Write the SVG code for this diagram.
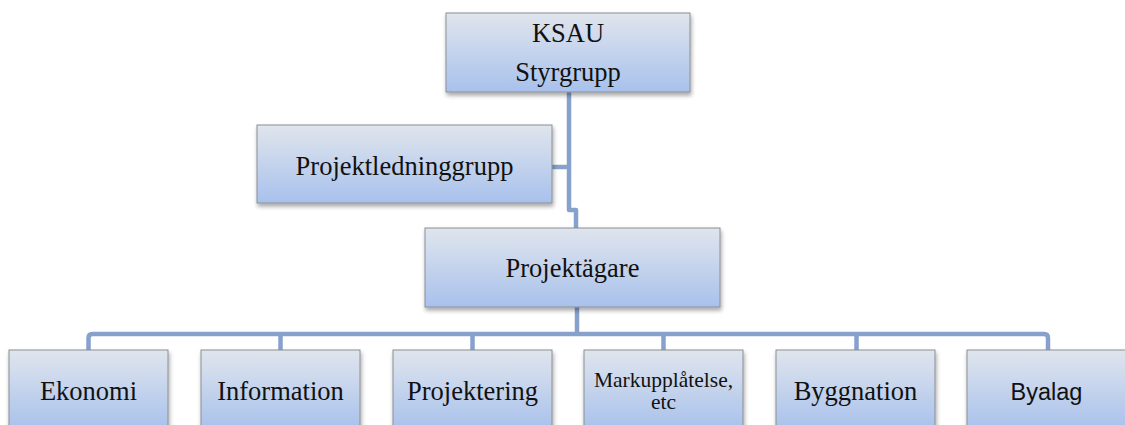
<svg xmlns="http://www.w3.org/2000/svg" width="1125" height="425" viewBox="0 0 1125 425">
<defs>
<linearGradient id="g" x1="0" y1="0" x2="0" y2="1">
<stop offset="0" stop-color="#e0e5ed"/>
<stop offset="1" stop-color="#a8c1ec"/>
</linearGradient>
<filter id="sh" x="-5%" y="-5%" width="115%" height="125%">
<feDropShadow dx="1" dy="3" stdDeviation="2" flood-color="#000" flood-opacity="0.35"/>
</filter>
</defs>
<style>
.box{fill:url(#g);stroke:#8a8f96;stroke-width:1;filter:url(#sh)}
.t{font-family:'Liberation Serif','Times New Roman',serif;font-size:26.5px;fill:#111;text-anchor:middle}
.m{font-family:'Liberation Serif','Times New Roman',serif;font-size:21.5px;fill:#111;text-anchor:middle}
.s{font-family:'Liberation Sans',Arial,sans-serif;font-size:23.5px;fill:#111;text-anchor:middle}
.c{fill:none;stroke:#87a1cd;stroke-width:4.5;stroke-linejoin:round;stroke-linecap:butt}
</style>
<g id="connectors">
<path class="c" d="M569 92 V210 H576 V228"/>
<path class="c" d="M552 167 H569"/>
<path class="c" d="M577 307 V334"/>
<path class="c" d="M88.5 350 V338 Q88.5 334 92.5 334 H1044 Q1048 334 1048 338 V350"/>
<path class="c" d="M280.5 334 V350 M472.5 334 V350 M663.5 334 V350 M856.5 334 V350"/>
</g>
<g id="ksau">
<rect class="box" x="446" y="13" width="244" height="79"/>
<text class="t" x="568" y="42">KSAU</text>
<text class="t" x="568" y="81">Styrgrupp</text>
</g>
<g id="projektledning">
<rect class="box" x="257" y="125" width="295" height="78"/>
<text class="t" x="404.5" y="175">Projektledninggrupp</text>
</g>
<g id="projektagare">
<rect class="box" x="425" y="228" width="295" height="79"/>
<text class="t" x="572.5" y="277">Projektägare</text>
</g>
<g id="ekonomi">
<rect class="box" x="9" y="350" width="159" height="80"/>
<text class="t" x="88.5" y="400">Ekonomi</text>
</g>
<g id="information">
<rect class="box" x="201" y="350" width="159" height="80"/>
<text class="t" x="280.5" y="400">Information</text>
</g>
<g id="projektering">
<rect class="box" x="393" y="350" width="159" height="80"/>
<text class="t" x="472.5" y="400">Projektering</text>
</g>
<g id="markupplatelse">
<rect class="box" x="584" y="350" width="159" height="80"/>
<text class="m" x="663.5" y="387">Markupplåtelse,</text>
<text class="m" x="663.5" y="409">etc</text>
</g>
<g id="byggnation">
<rect class="box" x="776" y="350" width="159" height="80"/>
<text class="t" x="855.5" y="400">Byggnation</text>
</g>
<g id="byalag">
<rect class="box" x="967" y="350" width="159" height="80"/>
<text class="s" x="1046.5" y="400">Byalag</text>
</g>
</svg>
